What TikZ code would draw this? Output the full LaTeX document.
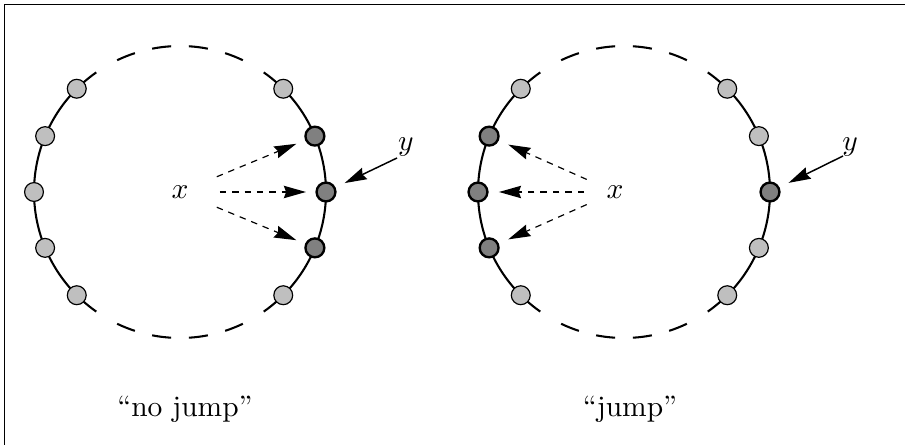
\documentclass[tikz,border=0pt]{standalone}
\usetikzlibrary{arrows.meta}
\begin{document}
\begin{tikzpicture}[x=0.339pt,y=-0.339pt,
  ring/.style={line width=0.7pt},
  lnode/.style={circle,draw,line width=0.4pt,fill=black!25,minimum size=6.4pt,inner sep=0pt},
  dnode/.style={circle,draw,line width=0.8pt,fill=black!50,minimum size=6.4pt,inner sep=0pt},
  tipshape/.style={-{Stealth[length=7.5pt,width=4.2pt,inset=0.8pt]}},
  arr/.style={tipshape,line width=0.4pt,dash pattern=on 2.2pt off 2pt},
  yarr/.style={tipshape,line width=0.5pt}]
\useasboundingbox (0,0) rectangle (905,445);
\draw[line width=0.4pt] (4.5,4.5) rectangle (960,500);
\coordinate (L) at (180,192);
\coordinate (R) at (624,192);
\foreach \c in {L,R}{
  \draw[ring] ([shift={(-55:146)}]\c) arc[start angle=-55,end angle=55,radius=146];
  \draw[ring] ([shift={(125:146)}]\c) arc[start angle=125,end angle=235,radius=146];
  \foreach \s/\e in {64.5/72,79/86.5,93.5/101,108/115.5}{
    \draw[ring] ([shift={(\s:146)}]\c) arc[start angle=\s,end angle=\e,radius=146];
    \draw[ring] ([shift={(-\s:146)}]\c) arc[start angle=-\s,end angle=-\e,radius=146];
  }
}
% left circle
\foreach \a [count=\i] in {45,135,157.5,180,202.5,225,-45}
  \node[lnode] (Ll\i) at ([shift={(\a:146)}]L) {};
\node[dnode] (Ld0) at ([shift={(0:146)}]L) {};
\node[dnode] (Ldu) at ([shift={(-22.5:146)}]L) {};
\node[dnode] (Ldd) at ([shift={(22.5:146)}]L) {};
% right circle
\foreach \a [count=\i] in {135,225,45,-45,22.5,-22.5}
  \node[lnode] (Rl\i) at ([shift={(\a:146)}]R) {};
\node[dnode] (Rd0) at ([shift={(180:146)}]R) {};
\node[dnode] (Rdu) at ([shift={(202.5:146)}]R) {};
\node[dnode] (Rdd) at ([shift={(157.5:146)}]R) {};
\node[dnode] (Ry) at ([shift={(0:146)}]R) {};
% labels x
\node (xL) at (180,192) {$x$};
\node (xR) at (615,192) {$x$};
\foreach \t in {Ld0,Ldu,Ldd}
  \draw[arr,shorten <=13.5pt,shorten >=6.8pt] (xL.center) -- (\t.center);
\foreach \t in {Rd0,Rdu,Rdd}
  \draw[arr,shorten <=10.5pt,shorten >=7.1pt] (xR.center) -- (\t.center);
% labels y
\node (yL) at (406,147.5) {$y$};
\node (yR) at (850,147.5) {$y$};
\coordinate (yLs) at (397,158);
\coordinate (yRs) at (843,156);
\draw[yarr,shorten >=7pt] (yLs) -- (Ld0.center);
\draw[yarr,shorten >=7pt] (yRs) -- (Ry.center);
% captions
\node[anchor=base] (nj) at (185,416) {``no jump''};
\node[anchor=base] (jj) at (630,416) {``jump''};
\end{tikzpicture}
\end{document}
